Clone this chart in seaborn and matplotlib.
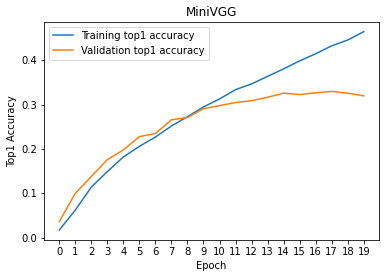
import matplotlib
matplotlib.use("Agg")
import matplotlib.pyplot as plt
import seaborn as sns
import pandas as pd

epochs = list(range(20))
train_acc = [0.017, 0.062, 0.114, 0.149, 0.182, 0.206, 0.227, 0.252, 0.273, 0.295,
             0.313, 0.334, 0.347, 0.364, 0.381, 0.399, 0.415, 0.433, 0.446, 0.465]
val_acc = [0.036, 0.100, 0.138, 0.176, 0.198, 0.228, 0.235, 0.266, 0.271, 0.291,
           0.298, 0.305, 0.309, 0.317, 0.326, 0.323, 0.327, 0.330, 0.326, 0.320]

plt.rcParams['font.family'] = ['DejaVu Sans']
fig = plt.figure(figsize=(386/72, 278/72), dpi=72)
ax = fig.add_axes([44/386, 1-240/278, (379-44)/386, (240-21.7)/278])

df = pd.DataFrame({"Epoch": epochs + epochs,
                   "acc": train_acc + val_acc,
                   "series": ["Training top1 accuracy"]*20 + ["Validation top1 accuracy"]*20})
sns.lineplot(data=df, x="Epoch", y="acc", hue="series", ax=ax,
             palette=["#1f77b4", "#ff7f0e"], linewidth=1.5)
ax.legend(loc="upper left", fontsize=10)
ax.set_xticks(epochs)
ax.set_xlabel("Epoch", fontsize=10)
ax.set_ylabel("Top1 Accuracy", fontsize=10)
ax.set_title("MiniVGG", fontsize=12)
ax.tick_params(labelsize=10)
fig.savefig("out.png", dpi=72)
